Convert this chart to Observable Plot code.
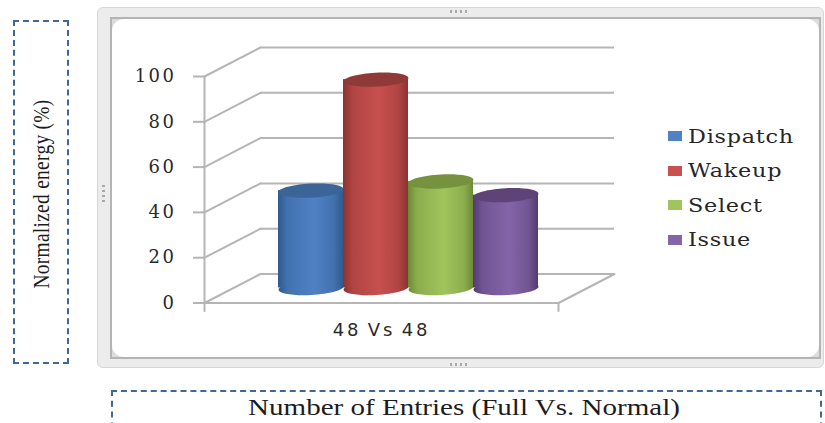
<!DOCTYPE html>
<html>
<head>
<meta charset="utf-8">
<script src="https://cdn.jsdelivr.net/npm/d3@7"></script>
<script src="https://cdn.jsdelivr.net/npm/@observablehq/plot@0.6"></script>
<style>
  html, body { margin: 0; padding: 0; background: #fff; }
  #page { position: relative; width: 825px; height: 423px; overflow: hidden; }
  #page > * { position: absolute; box-sizing: border-box; }
  #outer { left: 97px; top: 7px; width: 727px; height: 361px; border-radius: 6px; background: #ececec; border: 1px solid #d6d6d6; }
  #inner { left: 110px; top: 17px; width: 711px; height: 342px; background: #dcdcdc; border: 2px solid #b4b4b4; }
  #panel { left: 112px; top: 19px; width: 707px; height: 338px; border-radius: 12px; background: #fff; }
  .dashed { border: 2px dashed #3f6797; }
  #yBox { left: 13px; top: 20px; width: 56px; height: 344px; }
  #xBox { left: 111px; top: 390px; width: 711px; height: 60px; }
  .axisTitle { font-family: "Liberation Serif", serif; color: #1c1c1c; white-space: nowrap; }
  #yTitle { left: 41px; top: 194px; font-size: 24px; letter-spacing: 0.35px; transform: translate(-50%, -50%) rotate(-90deg) scaleX(0.81); }
  #xTitle { left: 464px; top: 407px; font-size: 24px; transform: translate(-50%, -50%) scaleX(1.21); }
  .grip { width: 20px; height: 3px; background: repeating-linear-gradient(90deg, #a8a8a8 0 2px, transparent 2px 5px); }
  .grip.v { width: 3px; height: 20px; background: repeating-linear-gradient(180deg, #a8a8a8 0 2px, transparent 2px 5px); }
  #legend { left: 668px; top: 119px; font-family: "DejaVu Serif", serif; font-size: 18px; letter-spacing: 0.6px; color: #262626; }
  #legend .row { display: flex; align-items: center; height: 34.5px; }
  #legend .key { width: 14px; height: 10px; margin-right: 6px; }
  #legend .name { transform: scaleX(1.24); transform-origin: left center; }
  #chart { left: 0; top: 0; }
  #chart svg { display: block; background: transparent; }
  .tickLabels text { font-family: "DejaVu Serif", serif; font-size: 18px; letter-spacing: 2.5px; fill: #2a2a2a; }
  .category text { font-family: "DejaVu Sans", sans-serif; font-size: 18px; letter-spacing: 2.8px; word-spacing: -2px; fill: #2a2a2a; }
</style>
</head>
<body>
<div id="page">
  <div id="outer"></div>
  <div id="inner"></div>
  <div id="panel"></div>
  <div class="grip" style="left:450px;top:10px"></div>
  <div class="grip" style="left:450px;top:363px"></div>
  <div class="grip v" style="left:102px;top:185px"></div>
  <div class="dashed" id="yBox"></div>
  <div class="dashed" id="xBox"></div>
  <div class="axisTitle" id="yTitle"></div>
  <div class="axisTitle" id="xTitle"></div>
  <div id="chart"></div>
  <div id="legend"></div>
</div>
<script>
// Energy per pipeline structure for the single 48 Vs 48 configuration.
const categoryLabel = "48 Vs 48";
const seriesNames = ["Dispatch", "Wakeup", "Select", "Issue"];
const seriesValues = [43, 92, 47, 41];
const seriesColors = ["#4f81c4", "#c8504e", "#a2c45c", "#8465a8"];
const seriesEdges = ["#2f5a8e", "#8a3331", "#6c8a36", "#523a70"];
const seriesCaps = ["#3a6596", "#8f3a38", "#77923f", "#5d4378"];
const yTicks = [0, 20, 40, 60, 80, 100];
const yTitle = "Normalized energy (%)";
const xTitle = "Number of Entries (Full Vs. Normal)";

document.getElementById("yTitle").textContent = yTitle;
document.getElementById("xTitle").textContent = xTitle;

const rows = seriesNames.map((name, i) => ({name, value: seriesValues[i]}));

// Depth of the 3D box, and how far the cylinders stand back from its front edge.
const depthX = 56, depthY = 29;
const depthAngle = Math.atan2(depthX, depthY) * 180 / Math.PI;
const depthLength = Math.hypot(depthX, depthY);
const midX = 27, midY = -15;

const wallColor = "#b5b5b5";

// Straight stroke used for the receding edges and the small outer ticks.
const edgeShape = {draw(context, length) { context.moveTo(0, 0); context.lineTo(0, -length); }};

// Flattened circle standing in for the cylinder's end caps.
const capSymbol = {
  draw(context) {
    const rx = 32.5, ry = 7, k = 0.5523;
    context.moveTo(-rx, 0);
    context.bezierCurveTo(-rx, -k * ry, -k * rx, -ry, 0, -ry);
    context.bezierCurveTo(k * rx, -ry, rx, -k * ry, rx, 0);
    context.bezierCurveTo(rx, k * ry, k * rx, ry, 0, ry);
    context.bezierCurveTo(-k * rx, ry, -rx, k * ry, -rx, 0);
    context.closePath();
  }
};

// Horizontal shading that gives each cylinder its round look.
function shadingDefs() {
  const defs = d3.create("svg:defs");
  seriesNames.forEach((name, i) => {
    const g = defs.append("linearGradient").attr("id", `shade${i}`).attr("x1", 0).attr("x2", 1).attr("y1", 0).attr("y2", 0);
    const mid = d3.interpolateRgb(seriesEdges[i], seriesColors[i])(0.6);
    [[0, seriesEdges[i]], [0.14, mid], [0.55, seriesColors[i]], [0.86, mid], [1, seriesEdges[i]]]
      .forEach(([o, c]) => g.append("stop").attr("offset", o).attr("stop-color", c));
  });
  return defs.node();
}

const cylinders = rows.flatMap((row, i) => {
  const fill = `url(#shade${i})`;
  return [
    Plot.dot([row], {x: "name", y: () => 0, symbol: capSymbol, r: 8, fill, rotate: -3, dx: midX, dy: midY}),
    Plot.barY([row], {x: "name", y: "value", fill, dx: midX, dy: midY}),
    Plot.dot([row], {x: "name", y: "value", symbol: capSymbol, r: 8, fill: seriesCaps[i], rotate: -3, dx: midX, dy: midY})
  ];
});

const chart = Plot.plot({
  width: 825,
  height: 423,
  marginLeft: 204,
  marginRight: 267,
  marginTop: 76,
  marginBottom: 120.5,
  style: {background: "transparent"},
  x: {type: "band", domain: seriesNames, paddingInner: 0, paddingOuter: 0.7, axis: null},
  y: {domain: [0, 100]},
  marks: [
    shadingDefs,
    // Back wall gridlines, pushed into the depth of the box.
    Plot.ruleY(yTicks, {stroke: wallColor, strokeWidth: 2, strokeOpacity: 1, dx: depthX, dy: -depthY}),
    // Receding edges of the side wall and the floor.
    Plot.vector(yTicks, {y: d => d, frameAnchor: "left", length: depthLength, rotate: depthAngle, anchor: "start", shape: edgeShape, stroke: wallColor, strokeWidth: 2}),
    Plot.vector([0], {frameAnchor: "bottom-right", length: depthLength, rotate: depthAngle, anchor: "start", shape: edgeShape, stroke: wallColor, strokeWidth: 2}),
    // Front edges of the box.
    Plot.ruleY([0], {stroke: wallColor, strokeWidth: 2, strokeOpacity: 1}),
    Plot.frame({anchor: "left", stroke: wallColor, strokeWidth: 2}),
    Plot.vector([0], {frameAnchor: "bottom-left", length: 8, rotate: 180, anchor: "start", shape: edgeShape, stroke: wallColor, strokeWidth: 2}),
    Plot.vector([0], {frameAnchor: "bottom-right", length: 8, rotate: 180, anchor: "start", shape: edgeShape, stroke: wallColor, strokeWidth: 2}),
    Plot.axisY({ticks: yTicks, tickSize: 11, tickPadding: 17, stroke: wallColor, strokeWidth: 2, label: null, className: "tickLabels"}),
    ...cylinders,
    Plot.text([categoryLabel], {text: d => d, frameAnchor: "bottom", lineAnchor: "middle", dy: 27, className: "category"})
  ]
});
document.getElementById("chart").append(chart);

// Legend entries, one per series.
const legend = d3.select("#legend");
seriesNames.forEach((name, i) => {
  const row = legend.append("div").attr("class", "row");
  row.append("div").attr("class", "key").style("background", seriesColors[i]);
  row.append("div").attr("class", "name").text(name);
});
</script>
</body>
</html>
